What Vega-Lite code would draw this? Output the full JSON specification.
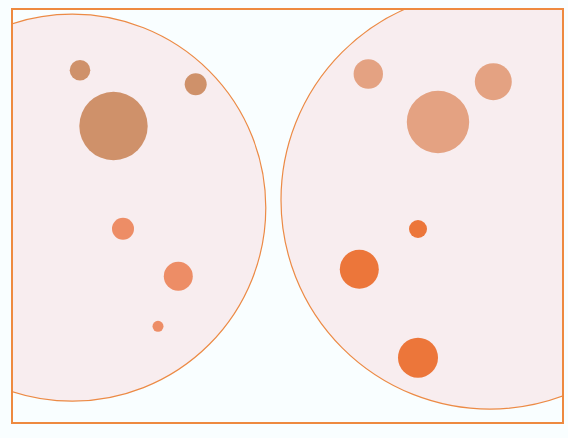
{
  "$schema": "https://vega.github.io/schema/vega-lite/v6.json",
  "description": "Two clipped zones with bubbles inside each",
  "width": 551,
  "height": 414,
  "autosize": {"type": "none"},
  "padding": {"left": 12, "top": 9, "right": 5, "bottom": 15},
  "background": "#f9feff",
  "datasets": {
    "zones": [
      {"zone": "left", "x": 60.3, "y": 198.7, "r": 193.5},
      {"zone": "right", "x": 478, "y": 191, "r": 209}
    ],
    "dots": [
      {"group": "A", "x": 68, "y": 61.3, "r": 10.3},
      {"group": "A", "x": 183.7, "y": 75.3, "r": 11},
      {"group": "A", "x": 101.5, "y": 117, "r": 34.2},
      {"group": "B", "x": 111, "y": 219.7, "r": 11},
      {"group": "B", "x": 166.3, "y": 267.3, "r": 14.5},
      {"group": "B", "x": 146, "y": 317.3, "r": 5.5},
      {"group": "C", "x": 356.3, "y": 65, "r": 14.7},
      {"group": "C", "x": 481.3, "y": 72.7, "r": 18.5},
      {"group": "C", "x": 426, "y": 113, "r": 31.2},
      {"group": "D", "x": 406, "y": 220, "r": 9},
      {"group": "D", "x": 347.3, "y": 260.3, "r": 19.5},
      {"group": "D", "x": 406, "y": 348.7, "r": 20}
    ],
    "frame": [{"name": "frame"}]
  },
  "layer": [
    {
      "data": {"name": "zones"},
      "mark": {"type": "circle", "clip": true, "fill": "#f8edef", "fillOpacity": 1, "stroke": "#ec8a45", "strokeWidth": 1.2, "opacity": 1},
      "encoding": {
        "x": {"field": "x", "type": "quantitative", "scale": {"domain": [0, 551], "nice": false, "zero": false}, "axis": null},
        "y": {"field": "y", "type": "quantitative", "scale": {"domain": [0, 414], "nice": false, "zero": false, "reverse": true}, "axis": null},
        "size": {"field": "r", "type": "quantitative", "scale": {"type": "pow", "exponent": 2, "domain": [0, 200], "range": [0, 160000]}, "legend": null}
      }
    },
    {
      "data": {"name": "dots"},
      "mark": {"type": "circle", "clip": true, "opacity": 1},
      "encoding": {
        "x": {"field": "x", "type": "quantitative"},
        "y": {"field": "y", "type": "quantitative"},
        "size": {"field": "r", "type": "quantitative"},
        "color": {
          "field": "group",
          "type": "nominal",
          "scale": {"domain": ["A", "B", "C", "D"], "range": ["#cf916a", "#ed8d66", "#e4a282", "#ec763a"]},
          "legend": null
        }
      }
    },
    {
      "data": {"name": "frame"},
      "mark": {"type": "rect", "fill": "transparent", "stroke": "#ee8a40", "strokeWidth": 2},
      "encoding": {}
    }
  ],
  "config": {
    "view": {"stroke": null}
  }
}
